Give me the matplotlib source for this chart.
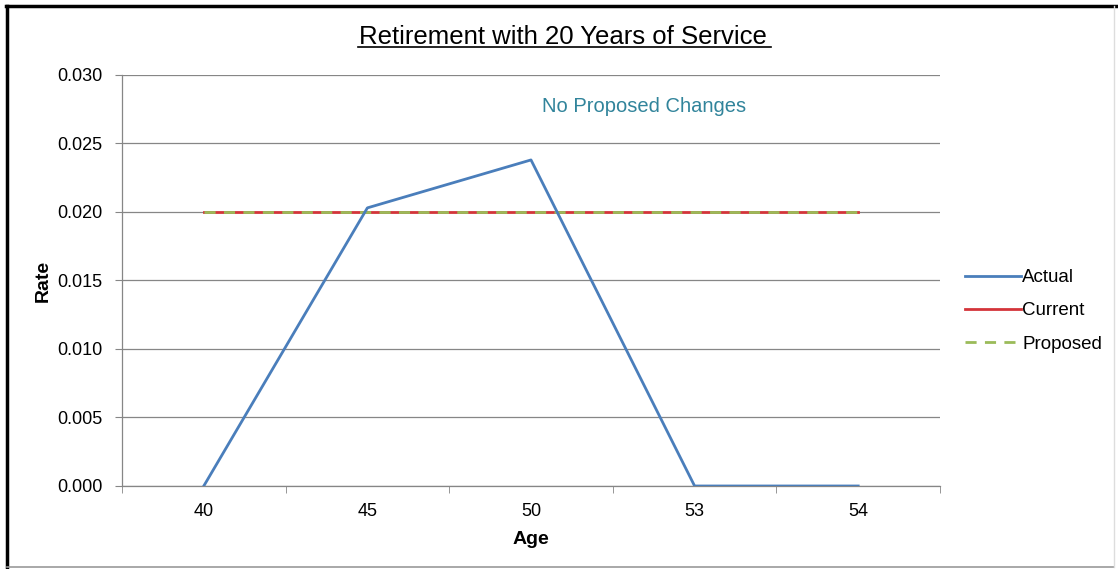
import matplotlib as mpl
import matplotlib.pyplot as plt
from matplotlib.lines import Line2D
import numpy as np

mpl.rcParams["font.family"] = ["Liberation Sans", "DejaVu Sans"]

# 退休率 (20 年服务)
ages = ["40", "45", "50", "53", "54"]
actual = [0.0, 0.0203, 0.0238, 0.0, 0.0]
current = [0.02, 0.02, 0.02, 0.02, 0.02]
proposed = [0.02, 0.02, 0.02, 0.02, 0.02]

fig = plt.figure(figsize=(11.18, 5.69), dpi=100)
ax = fig.add_axes([0.1091, 0.1459, 0.7317, 0.7223])

x = np.arange(len(ages))
ax.plot(x, actual, color="#4a7ebb", lw=2.0, label="Actual", zorder=4)
ax.plot(x, current, color="#d4343a", lw=2.0, label="Current", zorder=3)
ax.plot(x, proposed, color="#9bbb59", lw=2.0, ls=(0, (4, 3)), label="Proposed", zorder=3)

ax.set_xlim(-0.5, len(ages) - 0.5)
ax.set_ylim(0, 0.030)
ax.set_yticks(np.arange(0, 0.0301, 0.005))
ax.yaxis.set_major_formatter(mpl.ticker.FormatStrFormatter("%.3f"))
ax.set_xticks(x)
ax.set_xticklabels(ages)
ax.set_xticks(np.arange(-0.5, len(ages)), minor=True)
ax.tick_params(axis="x", which="major", length=0, pad=12, labelsize=13)
ax.tick_params(axis="x", which="minor", length=5, color="#868686", direction="out")
ax.tick_params(axis="y", length=5, color="#868686", labelsize=13, pad=9)

ax.grid(axis="y", color="#868686", lw=0.9)
ax.set_axisbelow(True)
for s in ["top", "right"]:
    ax.spines[s].set_visible(False)
for s in ["left", "bottom"]:
    ax.spines[s].set_color("#868686")
    ax.spines[s].set_linewidth(0.9)

ax.set_xlabel("Age", fontsize=14, fontweight="bold", labelpad=8)
ax.set_ylabel("Rate", fontsize=14, fontweight="bold", labelpad=4)

fig.text(0.5035, 0.935, "Retirement with 20 Years of Service", fontsize=18.5,
         ha="center", va="center")
fig.add_artist(Line2D([0.320, 0.690], [0.918, 0.918], color="black", lw=1.2))

ax.text(0.576, 0.812, "No Proposed Changes", transform=fig.transFigure,
        fontsize=14.5, color="#31849b", ha="center", va="center")

leg = ax.legend(loc="center left", bbox_to_anchor=(1.01, 0.426), frameon=False,
                fontsize=13.5, handlelength=3.0, handletextpad=0.05, labelspacing=0.85)

# 外框
fig.add_artist(Line2D([0.006, 0.006], [0.003, 0.99], color="black", lw=2.5))
fig.add_artist(Line2D([0.005, 1.0], [0.99, 0.99], color="black", lw=2.5))
fig.add_artist(Line2D([0.006, 0.996], [0.004, 0.004], color="#999999", lw=1.2))
fig.add_artist(Line2D([0.996, 0.996], [0.004, 0.99], color="#dddddd", lw=1.0))

fig.savefig("out.png", dpi=100)
